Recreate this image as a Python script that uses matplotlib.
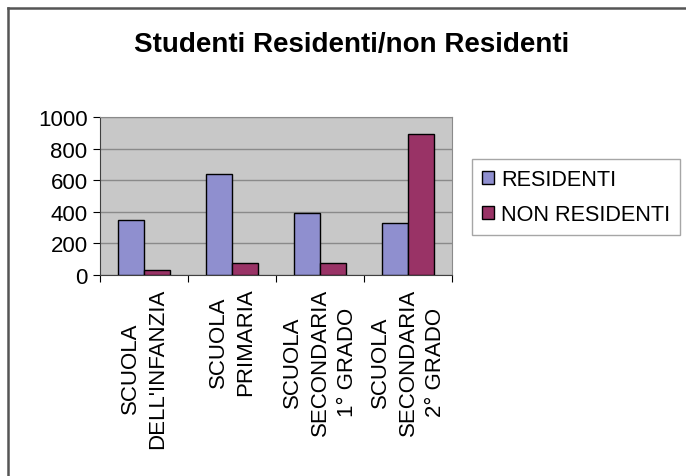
import numpy as np
import matplotlib.pyplot as plt
from matplotlib.lines import Line2D

plt.rcParams['font.family'] = ['Liberation Sans', 'DejaVu Sans']

categories = ["SCUOLA\nDELL'INFANZIA", "SCUOLA\nPRIMARIA",
              "SCUOLA\nSECONDARIA\n1° GRADO", "SCUOLA\nSECONDARIA\n2° GRADO"]
residenti = [350, 640, 395, 330]
non_residenti = [30, 75, 75, 895]
series_names = ["RESIDENTI", "NON RESIDENTI"]
yticks = [0, 200, 400, 600, 800, 1000]

fig = plt.figure(figsize=(6.86, 4.77), dpi=100)
ax = fig.add_axes([0.1458, 0.4214, 0.5131, 0.3312])

x = np.arange(len(categories))
w = 0.3
ax.bar(x - w / 2, residenti, w, color='#8f8fcf', edgecolor='black', linewidth=1,
       label=series_names[0], zorder=3)
ax.bar(x + w / 2, non_residenti, w, color='#993366', edgecolor='black', linewidth=1,
       label=series_names[1], zorder=3)

ax.set_facecolor('#c8c8c8')
ax.set_xlim(-0.5, len(categories) - 0.5)
ax.set_ylim(0, 1000)
ax.set_yticks(yticks)
ax.yaxis.grid(True, color='#8a8a8a', linewidth=1, zorder=0)
ax.tick_params(axis='y', labelsize=16, length=5, direction='out', pad=4)

# category ticks sit between groups, labels at the group centres
ax.set_xticks(np.arange(len(categories) + 1) - 0.5)
ax.set_xticklabels([])
ax.set_xticks(x, minor=True)
ax.set_xticklabels(categories, minor=True, rotation=90, fontsize=16,
                   ha='center', va='top', multialignment='center', linespacing=1.38)
ax.tick_params(axis='x', which='major', length=5, direction='out')
ax.tick_params(axis='x', which='minor', length=0, pad=9)

for side in ['top', 'right']:
    ax.spines[side].set_color('#8a8a8a')
for side in ['left', 'bottom']:
    ax.spines[side].set_color('#404040')

leg = ax.legend(loc='upper left', bbox_to_anchor=(472 / 686, 1 - 160 / 477),
                bbox_transform=fig.transFigure, fontsize=15.6, frameon=True,
                fancybox=False, handlelength=0.55, handleheight=0.55,
                handletextpad=0.35, borderpad=0.45, labelspacing=0.65,
                borderaxespad=0)
leg.get_frame().set_edgecolor('#909090')
leg.get_frame().set_linewidth(1)

fig.text(0.513, 0.906, "Studenti Residenti/non Residenti", ha='center',
         va='center', fontsize=20, fontweight='bold')

# outer chart frame
fig.add_artist(Line2D([8 / 686, 8 / 686], [0, 1 - 9 / 477], transform=fig.transFigure,
                      color='#555555', linewidth=1.8))
fig.add_artist(Line2D([8 / 686, 1], [1 - 9 / 477, 1 - 9 / 477], transform=fig.transFigure,
                      color='#555555', linewidth=1.8))

fig.savefig('out.png', dpi=100)
